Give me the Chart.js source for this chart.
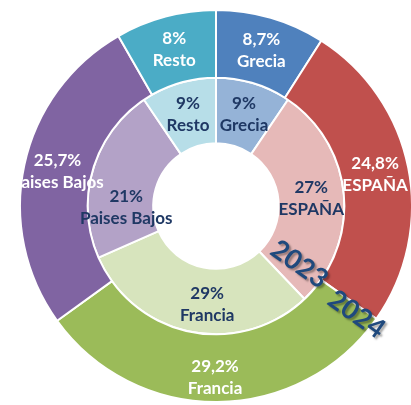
<!DOCTYPE html>
<html>
<head>
<meta charset="utf-8">
<script src="https://cdn.jsdelivr.net/npm/chart.js@4.4.1/dist/chart.umd.min.js"></script>
<style>
    html, body { margin: 0; padding: 0; background: #fff; overflow: hidden; width: 411px; height: 405px; }
    #wrap { position: absolute; left: 19px; top: 9px; width: 394px; height: 394px; }
</style>
</head>
<body>
<div id="wrap"><canvas id="donut" width="394" height="394"></canvas></div>
<script>
var PAISES = ['Grecia', 'ESPAÑA', 'Francia', 'Paises Bajos', 'Resto'];
var CUOTA_2024 = [8.7, 24.8, 29.2, 25.7, 8];
var CUOTA_2023 = [9, 27, 29, 21, 9];
var COLORES_2024 = ['#4F81BD', '#C0504D', '#9BBB59', '#8064A2', '#4BACC6'];
var COLORES_2023 = ['#95B3D7', '#E6B9B8', '#D7E4BD', '#B3A2C7', '#B7DEE8'];

// pequeños ajustes a mano de algunas etiquetas (dataset-indice: [dx, dy])
var AJUSTES = { '0-2': [-2, 9], '1-2': [10, 5], '1-3': [2, 28] };

function pct(v) {
    return String(v).replace('.', ',') + '%';
}

// etiquetas dentro de cada sector + rotulos de año
var etiquetas = {
    id: 'etiquetas',
    afterDatasetsDraw: function(chart) {
        var ctx = chart.ctx;
        ctx.save();
        ctx.textAlign = 'center';
        ctx.textBaseline = 'middle';
        ctx.font = 'bold 17px Lato';
        chart.data.datasets.forEach(function(ds, i) {
            var meta = chart.getDatasetMeta(i);
            meta.data.forEach(function(arc, j) {
                var p = arc.getProps(['x', 'y', 'startAngle', 'endAngle', 'innerRadius', 'outerRadius'], true);
                var a = (p.startAngle + p.endAngle) / 2;
                var r = (p.innerRadius + p.outerRadius) / 2;
                var aj = AJUSTES[i + '-' + j] || [0, 0];
                var x = p.x + Math.cos(a) * r + aj[0];
                var y = p.y + Math.sin(a) * r + aj[1];
                ctx.fillStyle = ds.textColor;
                ctx.fillText(pct(ds.data[j]), x, y - 11);
                ctx.fillText(PAISES[j], x, y + 11);
            });
        });

        // año junto al borde ESPAÑA / Francia
        var outer = chart.getDatasetMeta(0).data[1].getProps(['x', 'y', 'endAngle', 'innerRadius', 'outerRadius'], true);
        var inner = chart.getDatasetMeta(1).data[1].getProps(['innerRadius', 'outerRadius'], true);
        var ang = outer.endAngle;
        var anios = [
            { txt: chart.data.datasets[1].label, r: (inner.innerRadius + inner.outerRadius) / 2 + 6, dy: 0 },
            { txt: chart.data.datasets[0].label, r: (outer.innerRadius + outer.outerRadius) / 2 + 15, dy: 8 }
        ];
        ctx.font = 'bold 27px Lato';
        ctx.fillStyle = '#1F497D';
        ctx.shadowColor = 'rgba(0,0,0,0.35)';
        ctx.shadowOffsetX = 2;
        ctx.shadowOffsetY = 2;
        ctx.shadowBlur = 2;
        anios.forEach(function(t) {
            ctx.save();
            ctx.translate(outer.x + Math.cos(ang) * t.r, outer.y + Math.sin(ang) * t.r);
            ctx.rotate(ang);
            ctx.fillText(t.txt, 0, t.dy);
            ctx.restore();
        });
        ctx.restore();
    }
};

var ctx = document.getElementById('donut').getContext('2d');
window.myDonut = new Chart(ctx, {
    type: 'doughnut',
    data: {
        labels: PAISES,
        datasets: [{
                label: '2024',
                data: CUOTA_2024,
                backgroundColor: COLORES_2024,
                borderColor: '#fff',
                borderWidth: 2,
                weight: 68,
                textColor: '#fff'
            },
            {
                label: '2023',
                data: CUOTA_2023,
                backgroundColor: COLORES_2023,
                borderColor: '#fff',
                borderWidth: 2,
                weight: 66,
                textColor: '#1F3864'
            }
        ]
    },
    options: {
        responsive: false,
        animation: false,
        cutout: '32%',
        plugins: {
            legend: { display: false },
            tooltip: { enabled: false }
        }
    },
    plugins: [etiquetas]
});
</script>
</body>
</html>
